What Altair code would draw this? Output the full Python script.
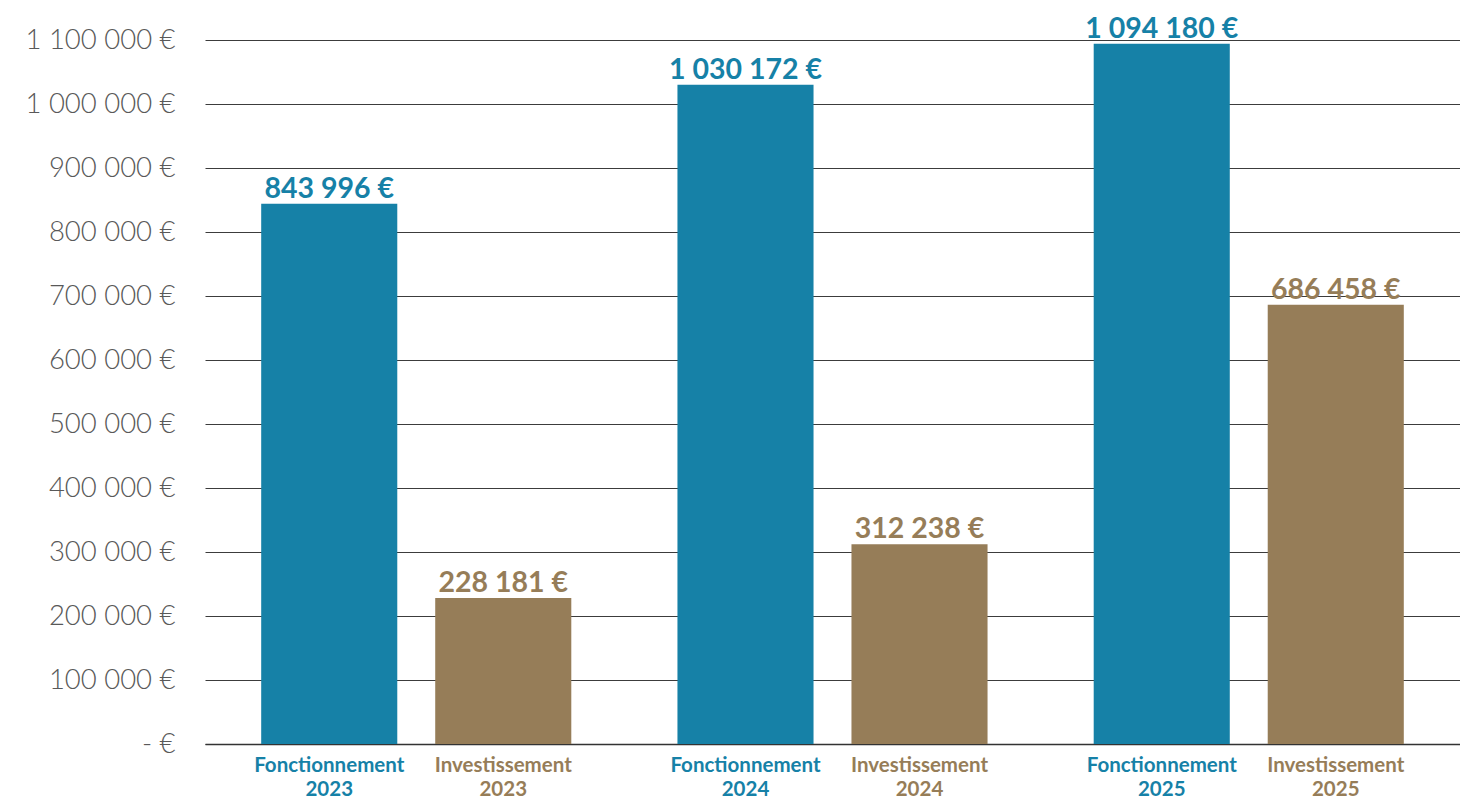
import altair as alt
import pandas as pd

years = ["2023", "2024", "2025"]
types = ["Fonctionnement", "Investissement"]
fonctionnement = [843996, 1030172, 1094180]
investissement = [228181, 312238, 686458]
colors = ["#1681A7", "#967D58"]
y_ticks = [0, 100000, 200000, 300000, 400000, 500000, 600000, 700000, 800000, 900000, 1000000, 1100000]

rows = []
for i, yr in enumerate(years):
    for t, vals in zip(types, [fonctionnement, investissement]):
        v = vals[i]
        rows.append({
            "year": yr,
            "type": t,
            "value": v,
            "vlabel": f"{v:,}".replace(",", " ") + " €",
            "xlabel": t + "\n" + yr,
        })
df = pd.DataFrame(rows)

W, H = 1255, 704

x = alt.X("year:N", sort=years, axis=alt.Axis(labels=False, ticks=False, title=None,
          domain=True, domainColor="#333333", domainWidth=1.5),
          scale=alt.Scale(paddingInner=0, paddingOuter=0.0075))
xoff = alt.XOffset("type:N", sort=types,
                   scale=alt.Scale(paddingInner=0.218, paddingOuter=0.305))
color = alt.Color("type:N", scale=alt.Scale(domain=types, range=colors), legend=None)

base = alt.Chart(df).encode(x=x, xOffset=xoff)

bars = base.mark_bar().encode(
    y=alt.Y("value:Q",
            scale=alt.Scale(domain=[0, 1100000], nice=False),
            axis=alt.Axis(values=y_ticks, title=None, domain=False, ticks=False,
                          grid=True, gridColor="#3c3c3c", gridWidth=1,
                          labelFont="Lato", labelFontWeight=300, labelFontSize=27.5,
                          labelColor="#595959", labelPadding=30,
                          labelExpr="datum.value == 0 ? '- €' : replace(format(datum.value, ',d'), /,/g, ' ') + ' €'")),
    color=color,
)

vlabels = base.mark_text(font="Lato", fontWeight="bold", fontSize=28.5,
                         baseline="alphabetic", dy=-6).encode(
    y="value:Q",
    text="vlabel:N",
    color=color,
)

xlabels = base.mark_text(font="Lato", fontWeight="bold", fontSize=20.5,
                         baseline="alphabetic", lineBreak="\n", lineHeight=24).encode(
    y=alt.value(H + 28),
    text="xlabel:N",
    color=color,
)

chart = alt.layer(bars, vlabels, xlabels).properties(
    width=W, height=H,
    autosize=alt.AutoSizeParams(type="none"),
    padding={"left": 197, "top": 32, "right": 0, "bottom": 60},
).configure_view(stroke=None)

chart.save("out.html", embed_options={"renderer": "svg", "actions": False})
